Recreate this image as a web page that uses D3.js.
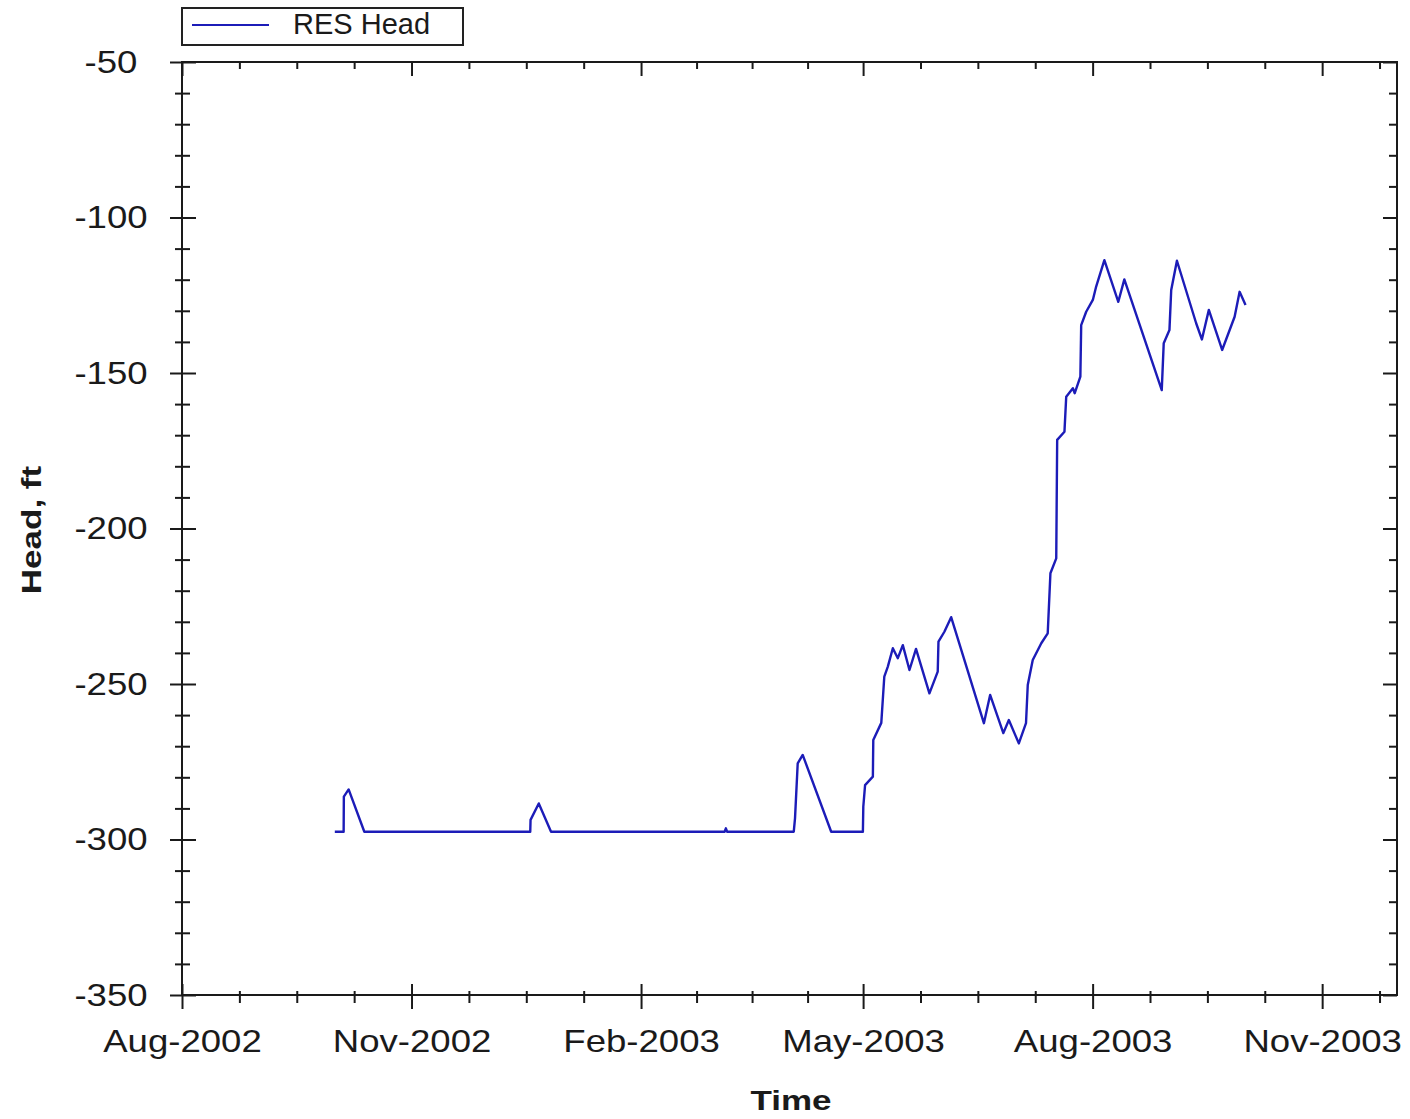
<!DOCTYPE html>
<html>
<head>
<meta charset="utf-8">
<script src="https://cdn.jsdelivr.net/npm/d3@7"></script>
<style>
  html, body { margin: 0; padding: 0; background: #ffffff; }
  svg { display: block; }
  text { font-family: "Liberation Sans", Arial, sans-serif; fill: #1a1a1a; }
</style>
</head>
<body>
<svg id="chart" width="1410" height="1119"></svg>
<script>
// ---------------- data ----------------
const seriesName = "RES Head";
const xTitle = "Time";
const yTitle = "Head, ft";

const dates = [
  "2002-10-01 06:00", "2002-10-04 19:00", "2002-10-04 21:00", "2002-10-06 19:00", "2002-10-13 02:00",
  "2002-12-18 14:00", "2002-12-18 17:00", "2002-12-22 00:00", "2002-12-26 22:00",
  "2003-03-06 12:00", "2003-03-07 00:00", "2003-03-07 12:00",
  "2003-04-03 05:00", "2003-04-03 17:00", "2003-04-04 19:00", "2003-04-06 19:00", "2003-04-18 05:00",
  "2003-04-30 22:00", "2003-05-01 02:00", "2003-05-01 19:00", "2003-05-04 22:00", "2003-05-05 02:00",
  "2003-05-08 07:00", "2003-05-09 12:00", "2003-05-10 22:00", "2003-05-12 22:00", "2003-05-14 22:00",
  "2003-05-16 22:00", "2003-05-19 14:00", "2003-05-22 05:00", "2003-05-27 14:00", "2003-05-30 22:00",
  "2003-05-31 05:00", "2003-06-02 14:00", "2003-06-05 07:00", "2003-06-18 10:00", "2003-06-20 22:00",
  "2003-06-26 05:00", "2003-06-28 10:00", "2003-07-02 10:00", "2003-07-05 07:00", "2003-07-06 00:00",
  "2003-07-08 00:00", "2003-07-11 10:00", "2003-07-14 00:00", "2003-07-15 02:00", "2003-07-17 10:00",
  "2003-07-17 19:00", "2003-07-20 17:00", "2003-07-21 10:00", "2003-07-24 02:00", "2003-07-24 20:00",
  "2003-07-27 02:00", "2003-07-27 10:00", "2003-07-29 10:00", "2003-08-01 02:00", "2003-08-02 10:00",
  "2003-08-05 17:00", "2003-08-11 07:00", "2003-08-13 17:00", "2003-08-28 17:00", "2003-08-29 12:00",
  "2003-08-31 19:00", "2003-09-01 12:00", "2003-09-03 19:00", "2003-09-11 12:00", "2003-09-13 19:00",
  "2003-09-16 14:00", "2003-09-21 22:00", "2003-09-26 22:00", "2003-09-28 22:00", "2003-10-01 07:00"
];
const heads = [
  -297.5, -297.5, -286.2, -283.9, -297.5,
  -297.5, -293.7, -288.4, -297.5,
  -297.5, -296.4, -297.5,
  -297.5, -293.2, -275.5, -272.8, -297.5,
  -297.5, -289.4, -282.5, -279.8, -268.0,
  -262.5, -247.6, -244.4, -238.5, -241.7,
  -237.5, -245.5, -238.7, -253.0, -246.0,
  -236.4, -233.2, -228.5, -262.6, -253.5,
  -265.8, -261.6, -269.1, -262.6, -250.3,
  -242.3, -236.9, -233.7, -214.4, -209.6,
  -171.5, -168.9, -157.6, -154.9, -156.5,
  -151.2, -134.6, -130.3, -126.5, -122.2,
  -113.7, -127.1, -119.9, -155.5, -140.4,
  -136.2, -123.3, -113.9, -134.0, -139.2,
  -129.7, -142.6, -131.9, -123.9, -128.1
];

const xDomain = ["2002-08-01", "2003-12-01"];
const xMajorTicks = ["2002-08-01", "2002-11-01", "2003-02-01", "2003-05-01", "2003-08-01", "2003-11-01"];
const xTickFormat = "%b-%Y";
const yDomain = [-350, -50];
const yMajorStep = 50;
const yMinorStep = 10;

// ---------------- layout ----------------
const plot = { left: 182, right: 1397, top: 62, bottom: 995 };
const lineColor = "#1c1cb8";
const axisColor = "#1a1a1a";
const tickFont = 31, tickStretch = 1.18;
const titleFont = 28, titleStretch = 1.25;

const parseT = d3.timeParse("%Y-%m-%d %H:%M");
const parseD = d3.timeParse("%Y-%m-%d");
const data = dates.map((d, i) => ({ t: parseT(d), v: heads[i] }));

const x = d3.scaleTime().domain(xDomain.map(parseD)).range([plot.left, plot.right]);
const y = d3.scaleLinear().domain(yDomain).range([plot.bottom, plot.top]);

const majors = xMajorTicks.map(parseD);
// minor ticks: three per major interval, evenly spaced
const minors = [];
const ext = majors.concat([d3.timeMonth.offset(majors[majors.length - 1], 3)]);
for (let i = 0; i < ext.length - 1; i++) {
  const a = +ext[i], b = +ext[i + 1];
  for (let k = 1; k < 4; k++) {
    const t = new Date(a + (b - a) * k / 4);
    if (t <= x.domain()[1]) minors.push(t);
  }
}
const yMajors = d3.range(yDomain[0], yDomain[1] + 0.1, yMajorStep);
const yMinors = d3.range(yDomain[0], yDomain[1] + 0.1, yMinorStep).filter(v => v % yMajorStep !== 0);

const svg = d3.select("#chart");

function styleAxis(g) {
  g.select(".domain").remove();
  g.selectAll(".tick line").attr("stroke", axisColor).attr("stroke-width", 2);
}

// ---- bottom axis (ticks cross the axis line) ----
svg.append("g").attr("transform", `translate(0,${plot.bottom})`)
  .call(d3.axisBottom(x).tickValues(majors).tickSize(14).tickFormat(d3.timeFormat(xTickFormat)))
  .call(styleAxis)
  .call(g => g.selectAll(".tick text")
    .attr("font-size", tickFont).attr("fill", "#1a1a1a")
    .attr("y", 0).attr("dy", 0)
    .attr("transform", `translate(0,57) scale(${tickStretch},1)`));
svg.append("g").attr("transform", `translate(0,${plot.bottom})`)
  .call(d3.axisTop(x).tickValues(majors).tickSize(11).tickFormat(""))
  .call(styleAxis);
svg.append("g").attr("transform", `translate(0,${plot.bottom})`)
  .call(d3.axisBottom(x).tickValues(minors).tickSize(8).tickFormat(""))
  .call(styleAxis);
svg.append("g").attr("transform", `translate(0,${plot.bottom})`)
  .call(d3.axisTop(x).tickValues(minors).tickSize(4).tickFormat(""))
  .call(styleAxis);

// ---- top axis (inward ticks) ----
svg.append("g").attr("transform", `translate(0,${plot.top})`)
  .call(d3.axisBottom(x).tickValues(majors).tickSize(14).tickFormat(""))
  .call(styleAxis);
svg.append("g").attr("transform", `translate(0,${plot.top})`)
  .call(d3.axisBottom(x).tickValues(minors).tickSize(7).tickFormat(""))
  .call(styleAxis);

// ---- left axis (ticks cross) ----
svg.append("g").attr("transform", `translate(${plot.left},0)`)
  .call(d3.axisLeft(y).tickValues(yMajors).tickSize(12).tickFormat(d => String(d)))
  .call(styleAxis)
  .call(g => g.selectAll(".tick text")
    .attr("font-size", tickFont).attr("fill", "#1a1a1a")
    .attr("text-anchor", "middle").attr("x", 0).attr("dy", "0.33em")
    .attr("transform", `translate(-71,0) scale(${tickStretch},1)`));
svg.append("g").attr("transform", `translate(${plot.left},0)`)
  .call(d3.axisRight(y).tickValues(yMajors).tickSize(14).tickFormat(""))
  .call(styleAxis);
svg.append("g").attr("transform", `translate(${plot.left},0)`)
  .call(d3.axisLeft(y).tickValues(yMinors).tickSize(7).tickFormat(""))
  .call(styleAxis);
svg.append("g").attr("transform", `translate(${plot.left},0)`)
  .call(d3.axisRight(y).tickValues(yMinors).tickSize(8).tickFormat(""))
  .call(styleAxis);

// ---- right axis (inward ticks) ----
svg.append("g").attr("transform", `translate(${plot.right},0)`)
  .call(d3.axisLeft(y).tickValues(yMajors).tickSize(14).tickFormat(""))
  .call(styleAxis);
svg.append("g").attr("transform", `translate(${plot.right},0)`)
  .call(d3.axisLeft(y).tickValues(yMinors).tickSize(8).tickFormat(""))
  .call(styleAxis);

// ---- frame ----
svg.append("rect")
  .attr("x", plot.left).attr("y", plot.top)
  .attr("width", plot.right - plot.left).attr("height", plot.bottom - plot.top)
  .attr("fill", "none").attr("stroke", axisColor).attr("stroke-width", 2);

// ---- series ----
svg.append("path")
  .datum(data)
  .attr("fill", "none")
  .attr("stroke", lineColor)
  .attr("stroke-width", 2.4)
  .attr("stroke-linejoin", "round")
  .attr("d", d3.line().x(d => x(d.t)).y(d => y(d.v)));

// ---- axis titles ----
svg.append("text")
  .attr("text-anchor", "middle")
  .attr("font-size", titleFont).attr("font-weight", "bold").attr("fill", "#111")
  .attr("transform", `translate(791,1110) scale(${titleStretch},1)`)
  .text(xTitle);
svg.append("text")
  .attr("text-anchor", "middle")
  .attr("font-size", titleFont).attr("font-weight", "bold").attr("fill", "#111")
  .attr("transform", `translate(41,530) rotate(-90) scale(${titleStretch},1)`)
  .text(yTitle);

// ---- legend ----
const lg = svg.append("g");
lg.append("rect")
  .attr("x", 182).attr("y", 8).attr("width", 281).attr("height", 37)
  .attr("fill", "#fff").attr("stroke", "#222").attr("stroke-width", 2);
lg.append("line")
  .attr("x1", 192).attr("x2", 269).attr("y1", 25).attr("y2", 25)
  .attr("stroke", lineColor).attr("stroke-width", 2);
lg.append("text")
  .attr("x", 293).attr("y", 34)
  .attr("font-size", 29).attr("fill", "#333")
  .text(seriesName);
</script>
</body>
</html>
